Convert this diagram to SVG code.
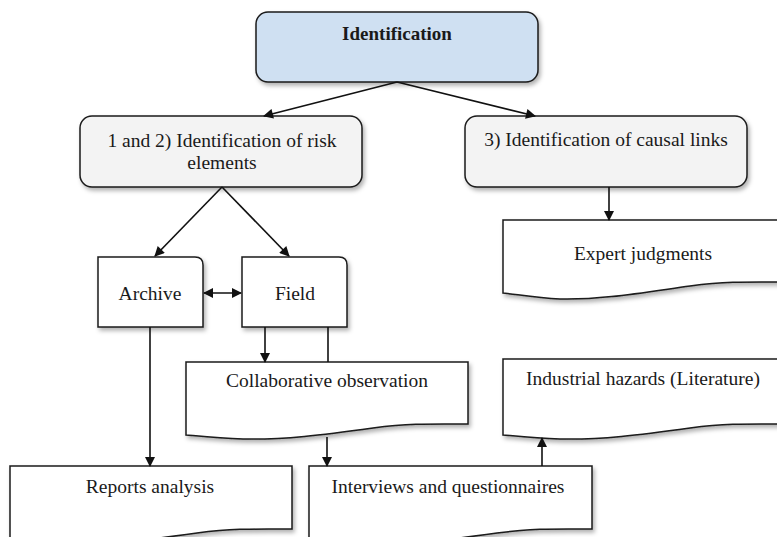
<svg xmlns="http://www.w3.org/2000/svg" width="777" height="537" viewBox="0 0 777 537">
  <style>
    .box { stroke: #1a1a1a; stroke-width: 1.5; filter: url(#shadow); }
    .doc { fill: #ffffff; }
    .grey { fill: #f3f3f3; }
    .blue { fill: #cfe0f2; }
    text { font-family: "Liberation Serif", "DejaVu Serif", serif; font-size: 19.5px; fill: #1a1a1a; text-anchor: middle; }
    .bold { font-weight: bold; font-size: 19px; }
    .edge { stroke: #111; stroke-width: 1.6; fill: none; }
  </style>
  <defs>
    <filter id="shadow" x="-10%" y="-10%" width="125%" height="130%">
      <feDropShadow dx="2" dy="3" stdDeviation="2" flood-color="#000" flood-opacity="0.3"/>
    </filter>
    <marker id="arrow" viewBox="0 0 10 10" refX="9" refY="5" markerWidth="11" markerHeight="10" orient="auto-start-reverse" markerUnits="userSpaceOnUse">
      <path d="M0,0 L10,5 L0,10 z" fill="#111"/>
    </marker>
  </defs>
  <rect width="777" height="537" fill="#ffffff"/>

  <g id="identification">
    <rect class="box blue" x="256" y="12" width="282" height="70" rx="12"/>
    <text class="bold" x="397" y="40">Identification</text>
  </g>

  <g id="risk-elements">
    <rect class="box grey" x="80" y="116" width="282" height="71" rx="12"/>
    <text x="222" y="147">1 and 2) Identification of risk</text>
    <text x="222" y="169">elements</text>
  </g>

  <g id="causal-links">
    <rect class="box grey" x="465" y="116" width="282" height="71" rx="12"/>
    <text x="606" y="146">3) Identification of causal links</text>
  </g>

  <g id="expert-judgments">
    <path class="box doc" d="M503,220 H785 V282 C750,282 730,281 690,286 C640,293 600,300 560,299 C535,298 515,294 503,293 Z"/>
    <text x="643" y="260">Expert judgments</text>
  </g>

  <g id="archive">
    <path class="box doc" d="M98,257 H195 Q203,257 203,265 V327 H98 Z"/>
    <text x="150" y="300">Archive</text>
  </g>

  <g id="field">
    <path class="box doc" d="M242,257 H339 Q347,257 347,265 V327 H242 Z"/>
    <text x="295" y="300">Field</text>
  </g>

  <g id="collaborative-observation">
    <path class="box doc" d="M186,362 H468 V424 C433,424 413,423 373,428 C323,435 283,440 243,439 C218,438 198,436 186,435 Z"/>
    <text x="327" y="387">Collaborative observation</text>
  </g>

  <g id="industrial-hazards">
    <path class="box doc" d="M503,359 H785 V424 C750,424 730,423 690,428 C640,435 600,440 560,439 C535,438 515,436 503,435 Z"/>
    <text x="643" y="385">Industrial hazards (Literature)</text>
  </g>

  <g id="reports-analysis">
    <path class="box doc" d="M10,466 H292 V529 C257,529 237,528 197,533 C147,540 107,545 67,544 C42,543 22,541 10,540 Z"/>
    <text x="150" y="493">Reports analysis</text>
  </g>

  <g id="interviews">
    <path class="box doc" d="M309,466 H592 V529 C557,529 537,528 497,533 C447,540 407,545 367,544 C342,543 322,541 309,540 Z"/>
    <text x="448" y="493">Interviews and questionnaires</text>
  </g>

  <g id="connectors">
    <line class="edge" x1="397" y1="82" x2="264" y2="116" marker-end="url(#arrow)"/>
    <line class="edge" x1="397" y1="82" x2="535" y2="116" marker-end="url(#arrow)"/>
    <line class="edge" x1="609" y1="187" x2="609" y2="220" marker-end="url(#arrow)"/>
    <line class="edge" x1="222" y1="187" x2="155" y2="256" marker-end="url(#arrow)"/>
    <line class="edge" x1="222" y1="187" x2="289" y2="256" marker-end="url(#arrow)"/>
    <line class="edge" x1="204" y1="293" x2="241" y2="293" marker-start="url(#arrow)" marker-end="url(#arrow)"/>
    <line class="edge" x1="150" y1="327" x2="150" y2="466" marker-end="url(#arrow)"/>
    <line class="edge" x1="265" y1="327" x2="265" y2="362" marker-end="url(#arrow)"/>
    <line class="edge" x1="328" y1="327" x2="328" y2="362"/>
    <line class="edge" x1="327" y1="437" x2="327" y2="466" marker-end="url(#arrow)"/>
    <line class="edge" x1="542" y1="466" x2="542" y2="438" marker-end="url(#arrow)"/>
  </g>
</svg>
